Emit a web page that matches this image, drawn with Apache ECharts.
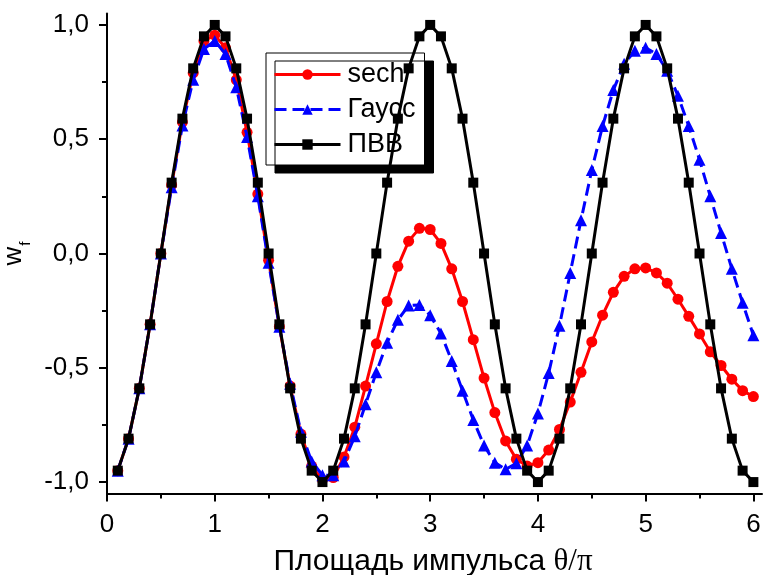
<!DOCTYPE html>
<html>
<head>
<meta charset="utf-8">
<script src="https://cdn.jsdelivr.net/npm/echarts@6/dist/echarts.min.js"></script>
<style>
  html, body { margin: 0; padding: 0; background: #fff; }
  #chart { width: 764px; height: 575px; }
</style>
</head>
<body>
<div id="chart"></div>
<script>
// Pulse area θ/π
const theta = [
  0.1, 0.2, 0.3, 0.4, 0.5, 0.6, 0.7, 0.8, 0.9, 1.0,
  1.1, 1.2, 1.3, 1.4, 1.5, 1.6, 1.7, 1.8, 1.9, 2.0,
  2.1, 2.2, 2.3, 2.4, 2.5, 2.6, 2.7, 2.8, 2.9, 3.0,
  3.1, 3.2, 3.3, 3.4, 3.5, 3.6, 3.7, 3.8, 3.9, 4.0,
  4.1, 4.2, 4.3, 4.4, 4.5, 4.6, 4.7, 4.8, 4.9, 5.0,
  5.1, 5.2, 5.3, 5.4, 5.5, 5.6, 5.7, 5.8, 5.9, 6.0
];

// w_f for the sech pulse
const sechValues = [
  -0.95, -0.81, -0.59, -0.31, 0.00, 0.30, 0.575, 0.79, 0.93, 0.955,
  0.90, 0.76, 0.53, 0.26, -0.03, -0.32, -0.58, -0.79, -0.93, -0.99,
  -0.98, -0.89, -0.76, -0.58, -0.395, -0.21, -0.056, 0.054, 0.11, 0.105,
  0.044, -0.067, -0.21, -0.377, -0.545, -0.696, -0.82, -0.90, -0.93, -0.915,
  -0.86, -0.77, -0.65, -0.52, -0.387, -0.27, -0.17, -0.10, -0.067, -0.063,
  -0.085, -0.13, -0.20, -0.275, -0.352, -0.43, -0.49, -0.55, -0.60, -0.626
];

// w_f for the Gaussian pulse
const gaussValues = [
  -0.95, -0.81, -0.59, -0.31, 0.00, 0.29, 0.56, 0.76, 0.895, 0.93,
  0.873, 0.727, 0.51, 0.25, -0.04, -0.32, -0.57, -0.78, -0.91, -0.97,
  -0.97, -0.91, -0.80, -0.66, -0.52, -0.39, -0.29, -0.228, -0.225, -0.27,
  -0.35, -0.47, -0.60, -0.728, -0.84, -0.915, -0.944, -0.918, -0.84, -0.70,
  -0.523, -0.316, -0.085, 0.146, 0.365, 0.558, 0.715, 0.83, 0.887, 0.90,
  0.873, 0.80, 0.69, 0.558, 0.41, 0.25, 0.09, -0.067, -0.216, -0.358
];

// w_f for the rectangular (ПВВ) pulse
const pvvValues = [
  -0.95, -0.81, -0.59, -0.31, 0.00, 0.31, 0.59, 0.81, 0.95, 1.00,
  0.95, 0.81, 0.59, 0.31, 0.00, -0.31, -0.59, -0.81, -0.95, -1.00,
  -0.95, -0.81, -0.59, -0.31, 0.00, 0.31, 0.59, 0.81, 0.95, 1.00,
  0.95, 0.81, 0.59, 0.31, 0.00, -0.31, -0.59, -0.81, -0.95, -1.00,
  -0.95, -0.81, -0.59, -0.31, 0.00, 0.31, 0.59, 0.81, 0.95, 1.00,
  0.95, 0.81, 0.59, 0.31, 0.00, -0.31, -0.59, -0.81, -0.95, -1.00
];

const seriesNames = ['sech', 'Гаусс', 'ПВВ'];

// Axis ticks
const xTicks = [0, 1, 2, 3, 4, 5, 6];
const xMinorTicks = [0.5, 1.5, 2.5, 3.5, 4.5, 5.5];
const yTicks = [-1, -0.5, 0, 0.5, 1];
const yMinorTicks = [-0.75, -0.25, 0.25, 0.75];

const FONT = 'Liberation Sans, Arial, sans-serif';
const pairs = vals => theta.map((t, i) => [t, vals[i]]);

const xRange = { min: 0, max: 6.08 };
const yRange = { min: -1.05, max: 1.05 };

const chart = echarts.init(document.getElementById('chart'), null, { renderer: 'canvas' });

chart.setOption({
  animation: false,
  backgroundColor: '#fff',
  grid: { left: 107, top: 13.5, width: 655, height: 480, containLabel: false, outerBoundsMode: 'none' },
  legend: {
    orient: 'vertical',
    left: 266,
    top: 53,
    data: seriesNames,
    itemWidth: 66,
    itemHeight: 13,
    itemGap: 8,
    padding: [8, 9, 7, 7],
    backgroundColor: '#fff',
    borderColor: '#000',
    borderWidth: 1,
    borderRadius: 0,
    shadowColor: '#000',
    shadowBlur: 0,
    shadowOffsetX: 9,
    shadowOffsetY: 8,
    lineStyle: { width: 3 },
    textStyle: { fontFamily: FONT, fontSize: 27, color: '#000', padding: [0, 0, 0, 2] }
  },
  xAxis: [
    {
      type: 'value', ...xRange,
      position: 'bottom',
      splitLine: { show: false },
      axisLine: { show: true, onZero: false, lineStyle: { color: '#000', width: 2 } },
      axisTick: { show: true, inside: false, length: 8, customValues: xTicks, lineStyle: { color: '#000', width: 2 } },
      axisLabel: {
        customValues: xTicks, margin: 18,
        fontFamily: FONT, fontSize: 26, color: '#000',
        formatter: v => String(v)
      },
      name: '{a|Площадь импульса }{b|θ/π}',
      nameLocation: 'middle',
      nameGap: 53,
      nameTextStyle: {
        padding: [0, 3, 0, 0],
        rich: {
          a: { fontFamily: FONT, fontSize: 30, color: '#000' },
          b: { fontFamily: 'Liberation Serif, serif', fontSize: 31, color: '#000' }
        }
      }
    },
    {
      type: 'value', ...xRange,
      position: 'bottom',
      splitLine: { show: false },
      axisLine: { show: false, onZero: false },
      axisTick: { show: true, length: 5, customValues: xMinorTicks, lineStyle: { color: '#000', width: 2 } },
      axisLabel: { show: false }
    }
  ],
  yAxis: [
    {
      type: 'value', ...yRange,
      position: 'left',
      splitLine: { show: false },
      axisLine: { show: true, onZero: false, lineStyle: { color: '#000', width: 2 } },
      axisTick: { show: true, length: 8, customValues: yTicks, lineStyle: { color: '#000', width: 2 } },
      axisLabel: {
        customValues: yTicks, margin: 18,
        fontFamily: FONT, fontSize: 26, color: '#000',
        formatter: v => v.toFixed(1).replace('.', ',')
      },
      name: '{w|w}{f|f}',
      nameLocation: 'middle',
      nameRotate: 90,
      nameGap: 66,
      nameTextStyle: {
        rich: {
          w: { fontFamily: FONT, fontSize: 26, color: '#000', lineHeight: 26, verticalAlign: 'top' },
          f: { fontFamily: FONT, fontSize: 15, color: '#000', lineHeight: 15, verticalAlign: 'top', padding: [17, 0, 0, 1] }
        }
      }
    },
    {
      type: 'value', ...yRange,
      position: 'left',
      splitLine: { show: false },
      axisLine: { show: false, onZero: false },
      axisTick: { show: true, length: 5, customValues: yMinorTicks, lineStyle: { color: '#000', width: 2 } },
      axisLabel: { show: false }
    }
  ],
  series: [
    {
      name: seriesNames[0], type: 'line',
      data: pairs(sechValues),
      symbol: 'circle', symbolSize: 11, showSymbol: true,
      lineStyle: { color: '#ff0000', width: 3 },
      itemStyle: { color: '#ff0000' },
      z: 2
    },
    {
      name: seriesNames[1], type: 'line',
      data: pairs(gaussValues),
      symbol: 'triangle', symbolSize: 12, showSymbol: true,
      lineStyle: { color: '#0000ff', width: 3, type: [12, 6] },
      itemStyle: { color: '#0000ff' },
      z: 3
    },
    {
      name: seriesNames[2], type: 'line',
      data: pairs(pvvValues),
      symbol: 'rect', symbolSize: 10, showSymbol: true,
      lineStyle: { color: '#000000', width: 3 },
      itemStyle: { color: '#000000' },
      z: 4
    }
  ]
});
</script>
</body>
</html>
